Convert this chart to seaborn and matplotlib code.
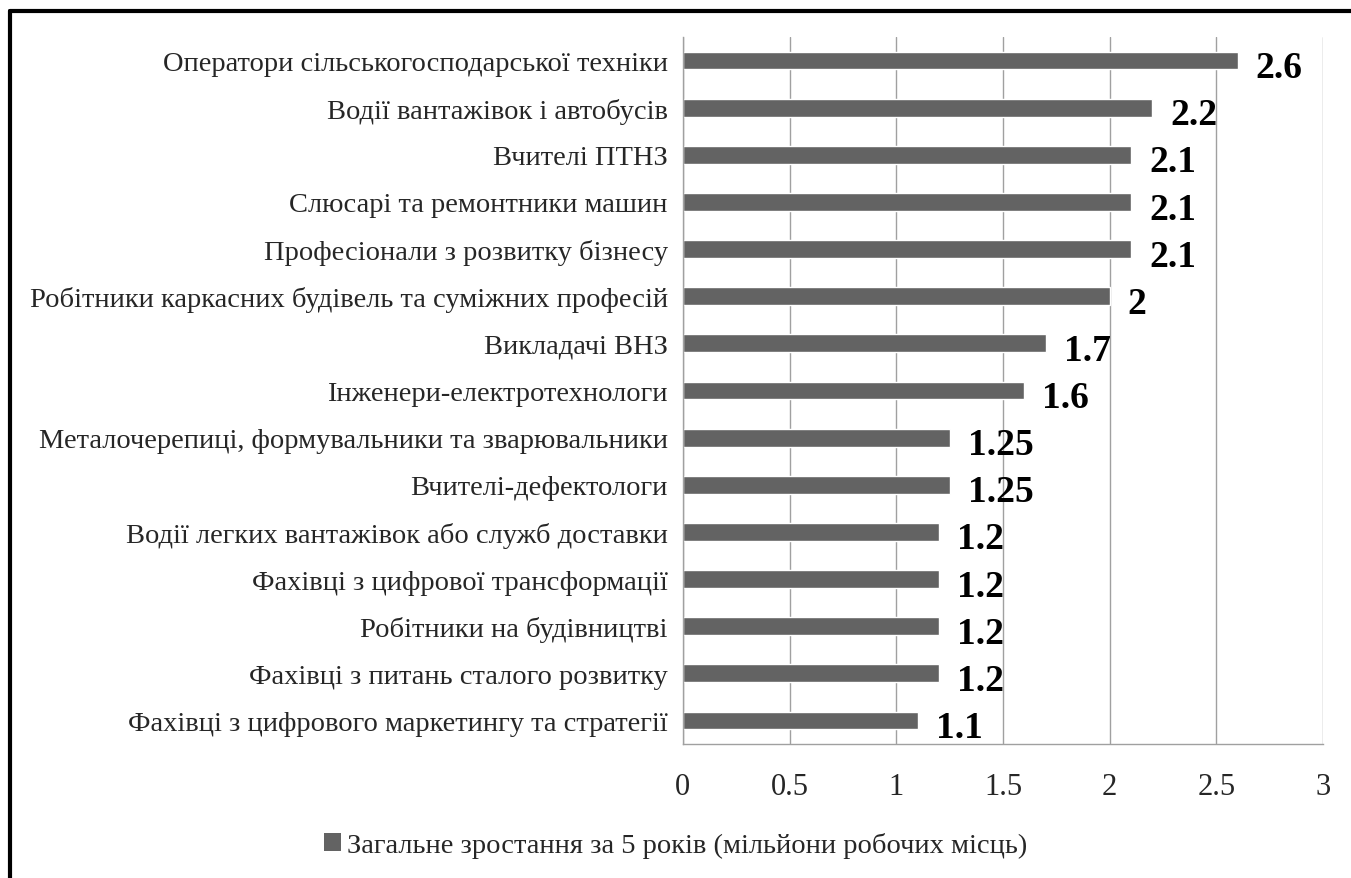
import pandas as pd
import seaborn as sns
import matplotlib.pyplot as plt
from matplotlib.lines import Line2D
from matplotlib.patches import Patch

# Професії та зростання (млн робочих місць)
professions = [
    "Оператори сільськогосподарської техніки",
    "Водії вантажівок і автобусів",
    "Вчителі ПТНЗ",
    "Слюсарі та ремонтники машин",
    "Професіонали з розвитку бізнесу",
    "Робітники каркасних будівель та суміжних професій",
    "Викладачі ВНЗ",
    "Інженери-електротехнологи",
    "Металочерепиці, формувальники та зварювальники",
    "Вчителі-дефектологи",
    "Водії легких вантажівок або служб доставки",
    "Фахівці з цифрової трансформації",
    "Робітники на будівництві",
    "Фахівці з питань сталого розвитку",
    "Фахівці з цифрового маркетингу та стратегії",
]
growth = [2.6, 2.2, 2.1, 2.1, 2.1, 2.0, 1.7, 1.6, 1.25, 1.25, 1.2, 1.2, 1.2, 1.2, 1.1]
x_ticks = [0, 0.5, 1, 1.5, 2, 2.5, 3]
x_tick_labels = ["0", "0.5", "1", "1.5", "2", "2.5", "3"]
series_name = "Загальне зростання за 5 років (мільйони робочих місць)"

df = pd.DataFrame({"Професія": professions, "Зростання": growth})

sns.set_style("white")
plt.rcParams["font.family"] = ["Liberation Serif", "DejaVu Serif"]

bar_color = "#636363"

fig = plt.figure(figsize=(13.51, 8.79), dpi=100)
ax = fig.add_axes([0.5055, 0.1524, 0.4738, 0.8044])

sns.barplot(data=df, y="Професія", x="Зростання", orient="h",
            color=bar_color, width=0.38, saturation=1, ax=ax)

# підписи значень
for i, v in enumerate(growth):
    ax.text(v + 0.085, i + 0.15, f"{v:g}", va="center", ha="left",
            fontsize=27, fontweight="bold", color="black")

ax.set_xlim(0, 3)
ax.set_ylim(14.5, -0.5)
ax.set_xticks(x_ticks)
ax.set_xticklabels(x_tick_labels, fontsize=22)
ax.tick_params(axis="x", pad=20, length=0)
ax.tick_params(axis="y", labelsize=20.5, length=0, pad=11)
ax.set_xlabel("")
ax.set_ylabel("")

ax.grid(axis="x", color="#a0a0a0", linewidth=1)
ax.set_axisbelow(True)
for side in ["top", "right"]:
    ax.spines[side].set_visible(False)
for side in ["left", "bottom"]:
    ax.spines[side].set_color("#a0a0a0")
    ax.spines[side].set_linewidth(1)

handle = Patch(facecolor=bar_color, edgecolor="none")
fig.legend([handle], [series_name], loc="center", bbox_to_anchor=(0.5, 0.038),
           frameon=False, fontsize=20.5, handlelength=0.6, handleheight=0.6,
           handletextpad=0.2)

# рамка
fig.add_artist(Line2D([0.0074, 0.0074], [0, 0.9863], color="black", linewidth=3,
                      transform=fig.transFigure))
fig.add_artist(Line2D([0.0074, 1.0], [0.9863, 0.9863], color="black", linewidth=3,
                      transform=fig.transFigure))

fig.savefig("out.png", dpi=100)
